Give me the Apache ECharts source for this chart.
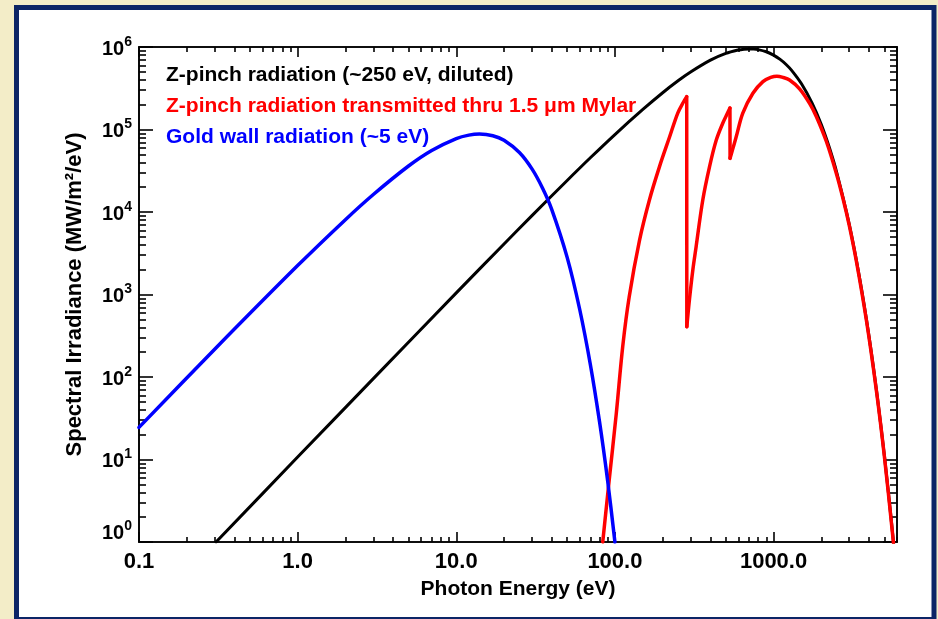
<!DOCTYPE html>
<html>
<head>
<meta charset="utf-8">
<script src="https://cdn.jsdelivr.net/npm/echarts@6/dist/echarts.min.js"></script>
<style>
  html, body { margin: 0; padding: 0; background: #f3edc8; }
  #chart { width: 938px; height: 619px; }
</style>
</head>
<body>
<div id="chart"></div>
<script>
// Photon energies (eV) and spectral irradiance (MW/m^2/eV) for each spectrum
const energyZpinch = [0.306, 1, 3, 10, 20, 30, 50, 70, 100, 150, 200, 250, 300, 400, 500, 600, 650, 700, 750, 800, 900, 1000, 1100, 1200, 1300, 1500, 1750, 2000, 2250, 2500, 3000, 3500, 4000, 4500, 5000, 5500, 5800];
const fluxZpinch = [1.0, 10.7, 95.5, 1047, 4100, 9050, 24100, 45400, 86900, 175000, 279000, 389000, 497000, 692000, 836000, 920000, 942000, 949000, 945000, 929000, 875000, 798000, 708000, 614000, 521000, 358000, 209000, 115000, 60100, 30300, 7100, 1520, 308, 59.3, 11.0, 1.98, 0.70];

const energyMylar = [83.8, 92, 102, 112, 123, 143, 165, 191, 221, 249, 270, 283.5, 284, 295, 310, 325, 358, 395, 435, 479, 510, 531, 532, 550, 581, 640, 741, 857, 960, 1050, 1150, 1262, 1459, 1690, 1860, 2150, 2480, 2735, 3000, 3325, 3846, 4446, 5015, 5700];
const fluxMylar = [1.0, 5.6, 36, 234, 933, 4570, 14000, 35500, 81000, 158000, 214000, 250000, 407, 870, 2000, 3800, 14000, 35500, 74000, 120000, 155000, 182000, 44700, 56000, 81000, 158000, 275000, 380000, 427000, 442000, 427000, 398000, 311000, 206000, 144000, 72000, 30000, 14800, 6900, 2550, 490, 69, 10.2, 0.98];
// Absorption edges of the filter (carbon K and oxygen K), in eV
const mylarEdges = [283.5, 531];

const energyGold = [0.1, 0.3, 1, 2, 3, 5, 7, 10, 12, 14, 17, 20, 25, 30, 35, 40, 50, 60, 70, 80, 90, 100];
const fluxGold = [24.5, 217, 2240, 8070, 16300, 36100, 55700, 77600, 85500, 88100, 84100, 74100, 52600, 33300, 19400, 10700, 2820, 658, 142, 28.6, 5.51, 1.0];

const seriesNames = [
  'Z-pinch radiation (~250 eV, diluted)',
  'Z-pinch radiation transmitted thru 1.5 \u03bcm Mylar',
  'Gold wall radiation (~5 eV)'
];
const seriesColors = ['#000000', '#ff0000', '#0000ff'];

const xMajorTicks = [0.1, 1, 10, 100, 1000];
const xMinorTicks = [0.2, 0.3, 0.4, 0.5, 0.6, 0.7, 0.8, 0.9, 2, 3, 4, 5, 6, 7, 8, 9, 20, 30, 40, 50, 60, 70, 80, 90, 200, 300, 400, 500, 600, 700, 800, 900, 2000, 3000, 4000, 5000, 6000];
const yMajorTicks = [1, 10, 100, 1000, 10000, 100000, 1000000];
const yMinorTicks = [];
for (let d = 1; d < 1000000; d *= 10) {
  for (let m = 2; m <= 9; m++) yMinorTicks.push(m * d);
}

const FONT = 'Liberation Sans, Arial, Helvetica, sans-serif';
const AX = { color: '#000', width: 1.6 };

function pairs(xs, ys) { return xs.map((x, i) => [x, ys[i]]); }

function xAxisOf(position, ticks, len, withLabels) {
  const a = {
    type: 'log', logBase: 10, min: 0.1, max: 6000, position: position,
    gridIndex: 0,
    axisLine: { show: true, onZero: false, lineStyle: AX },
    axisTick: { show: true, inside: true, length: len, customValues: ticks, lineStyle: AX },
    splitLine: { show: false },
    minorTick: { show: false },
    axisLabel: { show: false }
  };
  if (withLabels) {
    a.axisLabel = {
      show: true, customValues: xMajorTicks, margin: 9,
      color: '#000', fontSize: 22, fontWeight: 'bold', fontFamily: FONT,
      formatter: v => (v < 1 ? v.toFixed(1) : Math.round(v).toFixed(1))
    };
    a.name = 'Photon Energy (eV)';
    a.nameLocation = 'middle';
    a.nameGap = 37;
    a.nameTextStyle = { color: '#000', fontSize: 21, fontWeight: 'bold', fontFamily: FONT };
  }
  return a;
}

function yAxisOf(position, ticks, len, withLabels) {
  const a = {
    type: 'log', logBase: 10, min: 1, max: 1000000, position: position,
    gridIndex: 0,
    axisLine: { show: true, onZero: false, lineStyle: AX },
    axisTick: { show: true, inside: true, length: len, customValues: ticks, lineStyle: AX },
    splitLine: { show: false },
    minorTick: { show: false },
    axisLabel: { show: false }
  };
  if (withLabels) {
    a.axisLabel = {
      show: true, customValues: yMajorTicks, margin: 7,
      color: '#000', fontFamily: FONT,
      formatter: v => {
        const e = Math.round(Math.log10(v));
        const main = '{b|10}{s|' + e + '}';
        // the lowest label sits just above the bottom axis
        return e === 0 ? main + '\n{g| }' : main;
      },
      rich: {
        b: { fontSize: 20, fontWeight: 'bold', fontFamily: FONT, color: '#000', verticalAlign: 'bottom', lineHeight: 24 },
        s: { fontSize: 14, fontWeight: 'bold', fontFamily: FONT, color: '#000', verticalAlign: 'top', lineHeight: 24 },
        g: { fontSize: 10, lineHeight: 22 }
      }
    };
    a.name = 'Spectral Irradiance (MW/m\u00b2/eV)';
    a.nameLocation = 'middle';
    a.nameGap = 53;
    a.nameTextStyle = { color: '#000', fontSize: 22, fontWeight: 'bold', fontFamily: FONT };
  }
  return a;
}

function lineSeries(name, data, color, width, smooth, z) {
  return {
    name: name, type: 'line', xAxisIndex: 0, yAxisIndex: 0,
    data: data, smooth: smooth, showSymbol: false, symbol: 'none',
    lineStyle: { color: color, width: width, cap: 'round', join: 'round' },
    itemStyle: { color: color }, z: z
  };
}

// The filtered spectrum is drawn piecewise: smooth between the edges, straight across them
const mylarPoints = pairs(energyMylar, fluxMylar);
const edgeIdx = mylarEdges.map(e => energyMylar.indexOf(e));
const mylarPieces = [
  { data: mylarPoints.slice(0, edgeIdx[0] + 1), smooth: 0.35 },
  { data: mylarPoints.slice(edgeIdx[0], edgeIdx[0] + 2), smooth: false },
  { data: mylarPoints.slice(edgeIdx[0] + 1, edgeIdx[1] + 1), smooth: 0.35 },
  { data: mylarPoints.slice(edgeIdx[1], edgeIdx[1] + 2), smooth: false },
  { data: mylarPoints.slice(edgeIdx[1] + 1), smooth: 0.35 }
];

const chart = echarts.init(document.getElementById('chart'), null, { renderer: 'canvas' });

chart.setOption({
  animation: false,
  backgroundColor: '#f3edc8',
  graphic: [{
    type: 'rect', z: -10, silent: true,
    shape: { x: 16.5, y: 7.5, width: 917.5, height: 612 },
    style: { fill: '#ffffff', stroke: '#0c2566', lineWidth: 5 }
  }],
  grid: { left: 139, top: 47, width: 758, height: 495, containLabel: false },
  legend: {
    orient: 'vertical', left: 156, top: 60, icon: 'none',
    itemWidth: 0, itemHeight: 20, itemGap: 10, selectedMode: false,
    textStyle: { fontSize: 21, fontWeight: 'bold', fontFamily: FONT },
    data: seriesNames.map((n, i) => ({ name: n, textStyle: { color: seriesColors[i] } }))
  },
  xAxis: [
    xAxisOf('bottom', xMajorTicks, 10, true),
    xAxisOf('bottom', xMinorTicks, 5, false),
    xAxisOf('top', xMajorTicks, 10, false),
    xAxisOf('top', xMinorTicks, 5, false)
  ],
  yAxis: [
    yAxisOf('left', yMajorTicks, 14, true),
    yAxisOf('left', yMinorTicks, 7, false),
    yAxisOf('right', yMajorTicks, 14, false),
    yAxisOf('right', yMinorTicks, 7, false)
  ],
  series: [
    lineSeries(seriesNames[0], pairs(energyZpinch, fluxZpinch), seriesColors[0], 3, 0.3, 3)
  ].concat(
    mylarPieces.map(p => lineSeries(seriesNames[1], p.data, seriesColors[1], 3.5, p.smooth, 4))
  ).concat([
    lineSeries(seriesNames[2], pairs(energyGold, fluxGold), seriesColors[2], 3.5, 0.3, 5)
  ])
});
</script>
</body>
</html>
